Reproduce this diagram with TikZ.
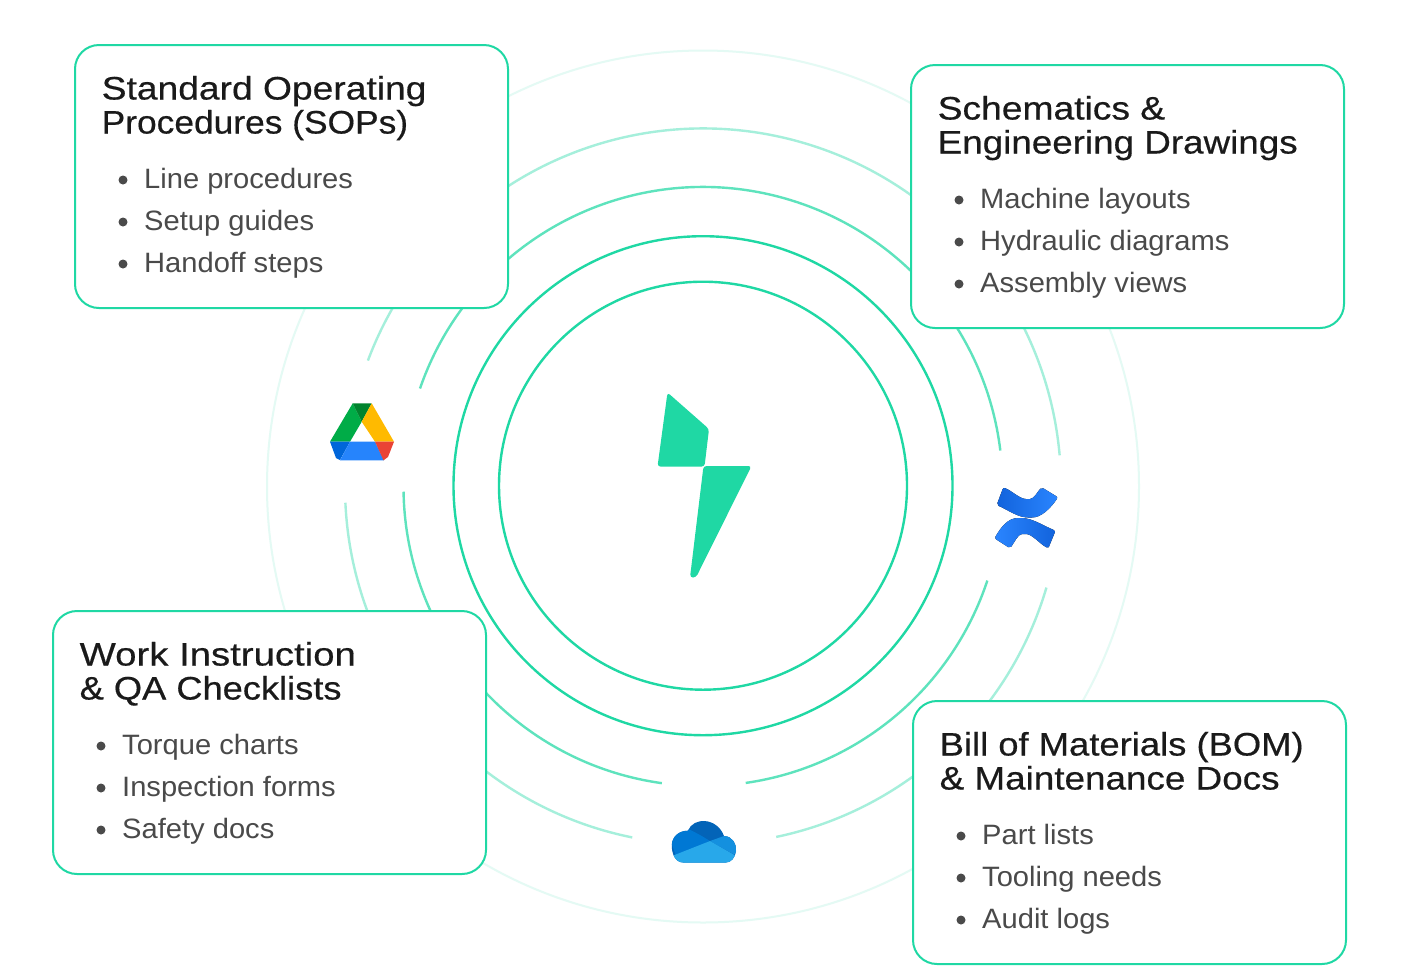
\documentclass[tikz,border=0pt]{standalone}
\usepackage{fontspec}
\setmainfont[FakeStretch=1.04]{Liberation Sans}
\newfontfamily\headfont[FakeBold=0.5,FakeStretch=1.145]{Liberation Sans}
\definecolor{mint}{HTML}{1FD8A4}
\definecolor{bodygrey}{HTML}{4A4A4A}
\definecolor{headblack}{HTML}{1A1A1A}
\definecolor{cfdark}{HTML}{1263DC}
\definecolor{cflight}{HTML}{2A85FF}
\tikzset{
  ring/.style={draw=mint,line width=2.4pt,fill=none},
  cardbox/.style={draw=mint,fill=white,line width=2pt,rounded corners=24pt,minimum width=433pt,minimum height=263pt,inner sep=0pt,outer sep=0pt,anchor=north west},
  headtext/.style={anchor=base west,inner sep=0pt,text=headblack,font=\headfont\fontsize{32.5}{34}\selectfont},
  itemtext/.style={anchor=base west,inner sep=0pt,text=bodygrey,font=\fontsize{28}{34}\selectfont},
  dotmark/.style={circle,fill=bodygrey,minimum size=9pt,inner sep=0pt},
  bolt/.style={fill=mint,rounded corners=3pt,draw=none}
}
\newcommand{\hsc}[2]{\scalebox{#1}[1]{#2}}
\newcommand{\infocard}[8]{%
  \node[cardbox] (#1) at (#2,#3) {};
  \node[headtext] (#1t1) at (#2+26.5,#3+54.5) {#4};
  \node[headtext] (#1t2) at (#2+26.5,#3+88.5) {#5};
  \node[dotmark] (#1d1) at (#2+48,#3+135) {};
  \node[dotmark] (#1d2) at (#2+48,#3+177) {};
  \node[dotmark] (#1d3) at (#2+48,#3+219) {};
  \node[itemtext] (#1i1) at (#2+69,#3+143) {#6};
  \node[itemtext] (#1i2) at (#2+69,#3+185) {#7};
  \node[itemtext] (#1i3) at (#2+69,#3+227) {#8};
}
\begin{document}
\begin{tikzpicture}[x=1pt,y=-1pt]
\useasboundingbox (0,0) rectangle (1410,978);
\fill[white] (0,0) rectangle (1410,978);
\coordinate (c) at (703,485.7);
\coordinate (co) at (703,486.5);
% rings
\draw[ring] (c) circle[radius=204];
\draw[ring] (c) circle[radius=249.5];
\draw[ring,line width=2pt,draw=mint!12] (co) circle[radius=436];
\foreach \a/\b in {-160.9/-6.9,18.3/81.8,97.9/179}{
  \draw[ring,draw=mint!72] ([shift={(\a:299.5)}]co) arc[start angle=\a,end angle=\b,radius=299.5];
}
\foreach \a/\b in {-159.4/-5,16.4/78.2,101.4/177.4}{
  \draw[ring,draw=mint!40] ([shift={(\a:358)}]co) arc[start angle=\a,end angle=\b,radius=358];
}
% bolt
\fill[bolt] (667.5,392.5) -- (709,429) -- (704.5,466.6) -- (657.5,466.6) -- cycle;
\fill[bolt] (703.5,466) -- (751.5,466) -- (696,577.5) -- (690,577.5) -- cycle;
% cards
\infocard{sop}{75}{45}{Standard Operating}{\hsc{0.95}{Procedures (SOPs)}}{Line procedures}{Setup guides}{Handoff steps}
\infocard{sch}{911}{65}{Schematics \&}{\hsc{0.989}{Engineering Drawings}}{Machine layouts}{Hydraulic diagrams}{Assembly views}
\infocard{wrk}{53}{611}{\hsc{1.03}{Work Instruction}}{\hsc{0.974}{\& QA Checklists}}{Torque charts}{Inspection forms}{Safety docs}
\infocard{bom}{913}{701}{\hsc{0.978}{Bill of Materials (BOM)}}{\hsc{0.99}{\& Maintenance Docs}}{Part lists}{Tooling needs}{Audit logs}
% Google Drive icon
\fill[fill={rgb,255:red,0;green,172;blue,71}] (352.7,403.3) -- (361.7,421.7) -- (350,441.7) -- (330,441.7) -- cycle;
\fill[fill={rgb,255:red,0;green,131;blue,45}] (352.7,403.3) -- (371.7,403.3) -- (361.7,421.7) -- cycle;
\fill[fill={rgb,255:red,255;green,186;blue,0}] (371.7,403.3) -- (394,441.7) -- (375,441.7) -- (361.7,421.7) -- cycle;
\fill[fill={rgb,255:red,0;green,102;blue,218}] (330,441.7) -- (350,441.7) -- (340,460) -- (336,458) -- cycle;
\fill[fill={rgb,255:red,38;green,132;blue,252}] (350,441.7) -- (375,441.7) -- (384,460.3) -- (340,460.3) -- cycle;
\fill[fill={rgb,255:red,234;green,67;blue,53}] (375,441.7) -- (394,441.7) -- (388,457) -- (383.5,460.3) -- cycle;
% Confluence icon
\fill[left color=cfdark,right color=cflight,rounded corners=2pt]
  (1003.3,487.3) .. controls (1012,491) and (1020,499) .. (1028,499) .. controls (1034,499) and (1038,491) .. (1041.7,487.3)
  -- (1058,497.3) .. controls (1050,509) and (1041,517.5) .. (1030,517.5) .. controls (1018,517.5) and (1008,510) .. (996.7,505) -- cycle;
\fill[left color=cflight,right color=cfdark,rounded corners=2pt]
  (994.5,538.3) .. controls (1001,527) and (1008,518) .. (1020,518) .. controls (1032,518) and (1044,526) .. (1055.5,530.7)
  -- (1048.3,548.3) .. controls (1040,544) and (1032,534) .. (1024,534) .. controls (1018,534) and (1014,543) .. (1010,548.3) -- cycle;
% OneDrive icon
\begin{scope}
\clip (683,862.5) .. controls (675,862.5) and (671.5,853) .. (671.8,845) .. controls (672,836) and (680,830.5) .. (688,830.7) .. controls (693,817) and (717,817) .. (724,836)
  .. controls (732,836) and (737,844) .. (736,851) .. controls (735,858) and (731,862.5) .. (726,862.5) -- cycle;
\fill[fill={rgb,255:red,3;green,100;blue,184}] (670,815) rectangle (740,865);
\fill[fill={rgb,255:red,0;green,120;blue,212}] (676,856) -- (665,825) -- (686,828) .. controls (695,832) and (702,836) .. (710,841) -- cycle;
\fill[fill={rgb,255:red,20;green,144;blue,223}] (710,841) -- (724,836) -- (745,836) -- (745,856) -- (733.3,854) -- cycle;
\fill[fill={rgb,255:red,40;green,168;blue,234}] (672,856) -- (710,841) -- (738,857) -- (738,866) -- (672,866) -- cycle;
\end{scope}
\end{tikzpicture}
\end{document}
